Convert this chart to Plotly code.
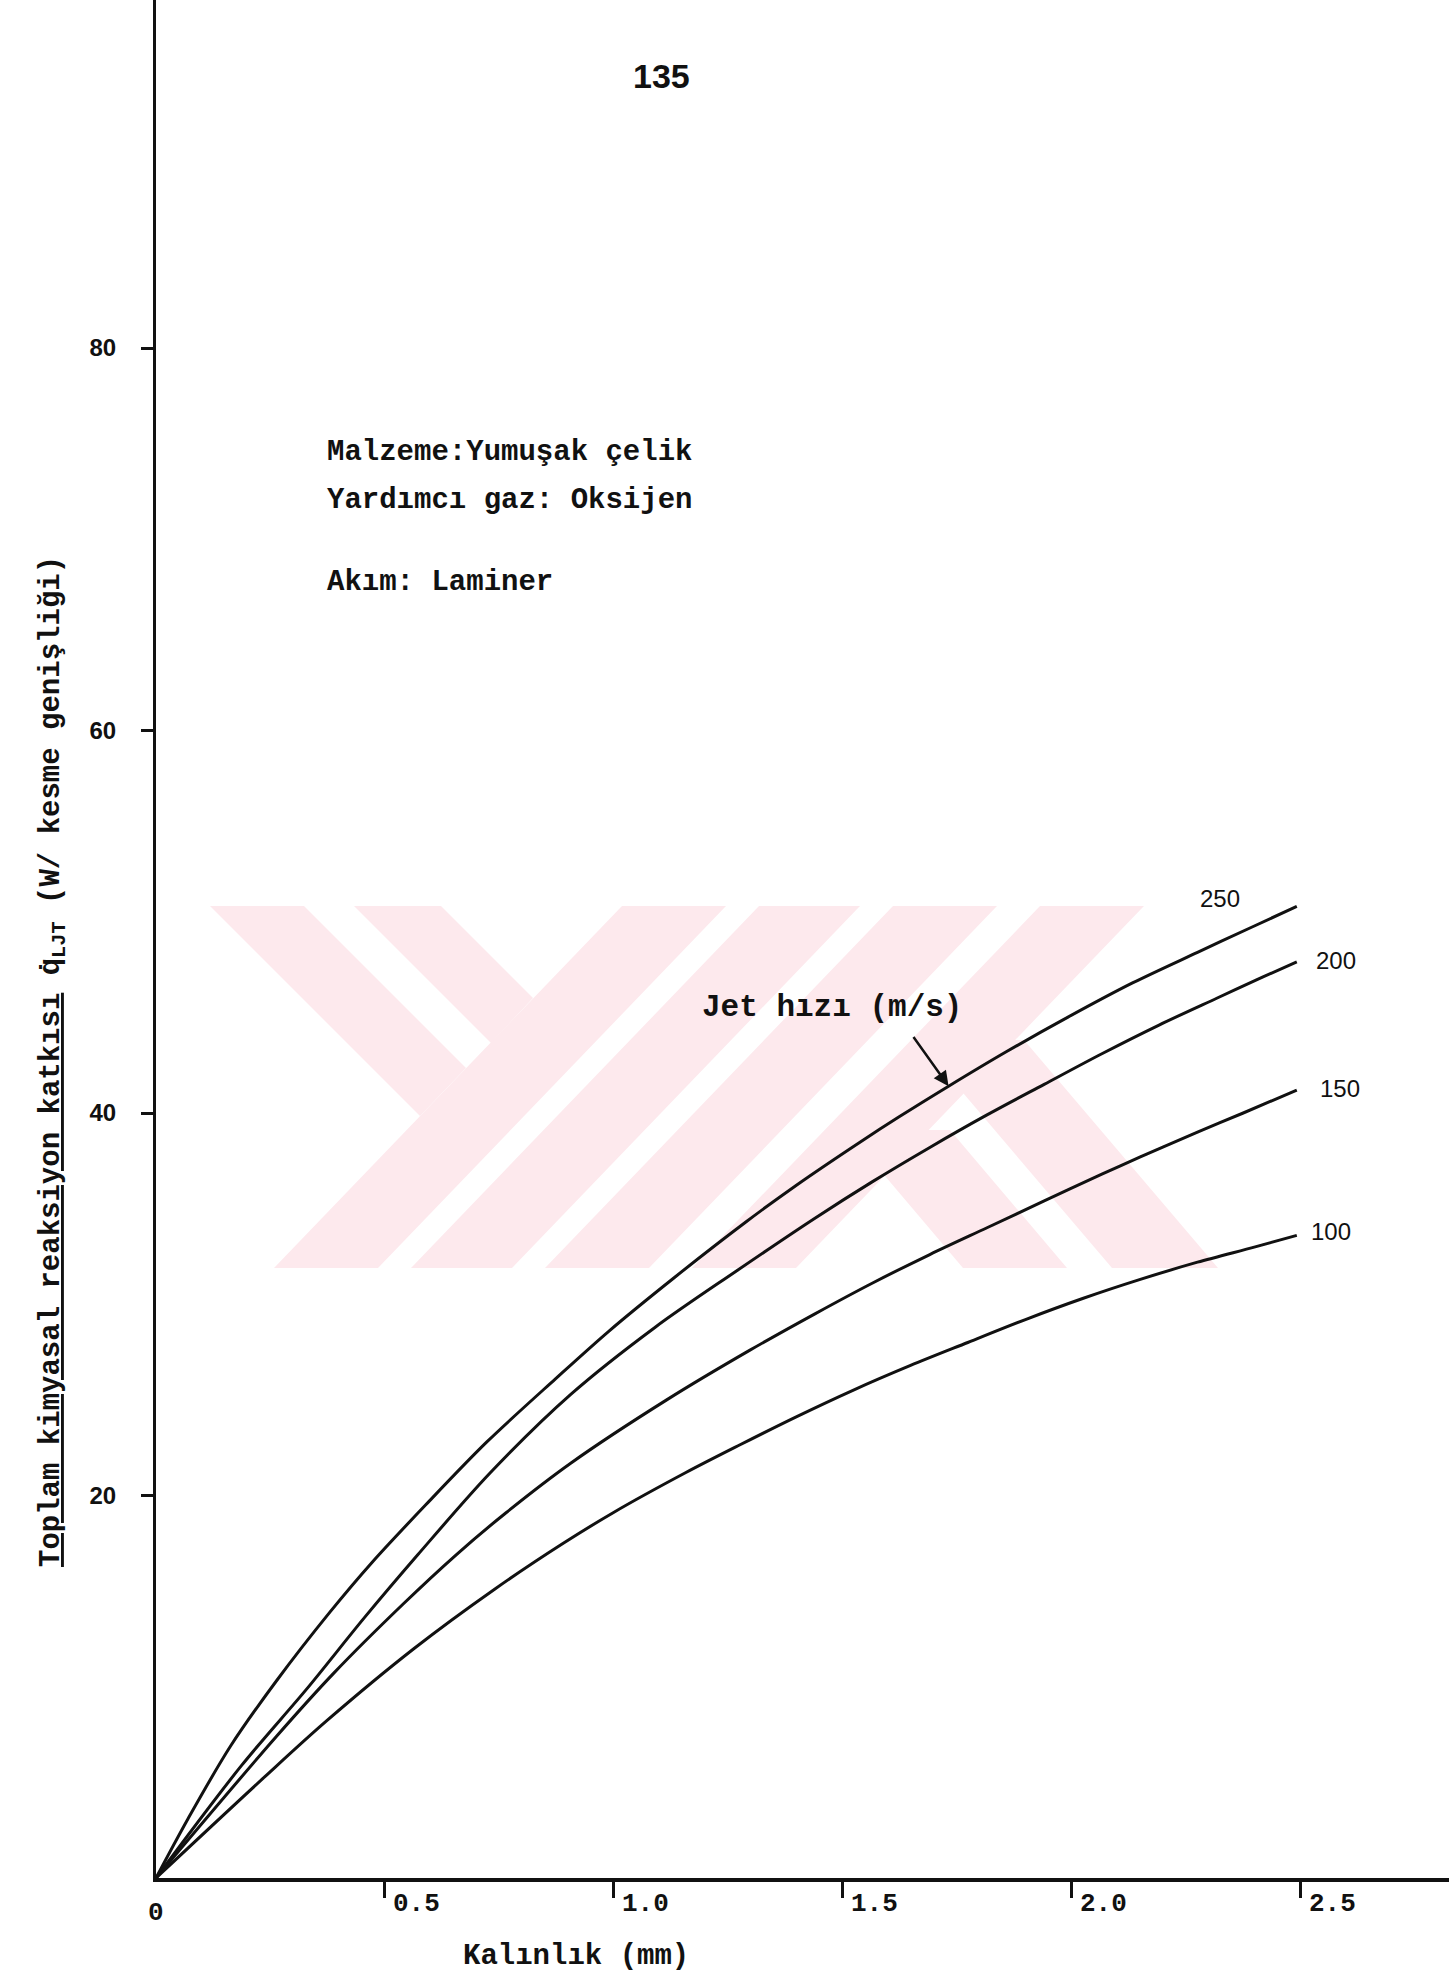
import plotly.graph_objects as go

# --- data: thickness (mm) vs. total chemical reaction contribution, per jet speed ---
speeds = ["250", "200", "150", "100"]

x_250 = [0, 0.07, 0.163, 0.263, 0.38, 0.472, 0.589, 0.723, 0.873, 0.99, 1.133, 1.289,
         1.398, 1.54, 1.624, 1.732, 1.858, 1.992, 2.134, 2.276, 2.393, 2.493]
q_250 = [0, 3.1, 6.9, 10.3, 13.9, 16.5, 19.5, 22.8, 26.1, 28.6, 31.4, 34.3,
         36.2, 38.5, 39.8, 41.4, 43.2, 45.0, 46.8, 48.4, 49.7, 50.8]

x_200 = [0, 0.1875, 0.33, 0.455, 0.572, 0.731, 0.907, 1.091, 1.266, 1.44, 1.565,
         1.691, 1.816, 1.941, 2.067, 2.192, 2.318, 2.418, 2.493]
q_200 = [0, 5.9, 9.9, 13.6, 16.9, 21.2, 25.3, 28.8, 31.7, 34.5, 36.4,
         38.2, 39.9, 41.5, 43.1, 44.6, 46.0, 47.1, 47.9]

x_150 = [0, 0.263, 0.388, 0.539, 0.656, 0.765, 0.907, 1.116, 1.298, 1.44, 1.565,
         1.691, 1.816, 1.941, 2.067, 2.151, 2.276, 2.376, 2.493]
q_150 = [0, 7.4, 10.7, 14.3, 16.9, 19.1, 21.7, 25.0, 27.6, 29.5, 31.1,
         32.6, 34.0, 35.4, 36.8, 37.7, 39.0, 40.0, 41.2]

x_100 = [0, 0.238, 0.372, 0.564, 0.74, 0.89, 0.999, 1.158, 1.272, 1.398, 1.523,
         1.649, 1.774, 1.9, 2.025, 2.151, 2.276, 2.402, 2.493]
q_100 = [0, 5.3, 8.2, 12.0, 15.1, 17.5, 19.1, 21.2, 22.6, 24.1, 25.5,
         26.8, 28.0, 29.2, 30.3, 31.3, 32.2, 33.0, 33.6]

x_tick_vals = [0.5, 1.0, 1.5, 2.0, 2.5]
x_tick_text = ["0.5", "1.0", "1.5", "2.0", "2.5"]
y_tick_vals = [20, 40, 60, 80]
y_tick_text = ["20", "40", "60", "80"]

# --- page geometry ---
W, H = 1449, 1976
ML, MB = 156, 98
PLOT_W, PLOT_H = W - ML, H - MB
PX_PER_MM = 457.6
PX_PER_UNIT = 19.125

MONO = "Liberation Mono"
SANS = "Liberation Sans"
INK = "#111111"


def paper_xy(px, py):
    return (px - ML) / PLOT_W, (PLOT_H - py) / PLOT_H


def paper_path(points):
    parts = []
    for i, (px, py) in enumerate(points):
        x, y = paper_xy(px, py)
        parts.append(("M" if i == 0 else "L") + f"{x:.5f},{y:.5f}")
    return " ".join(parts) + " Z"


fig = go.Figure()

series = [(x_250, q_250), (x_200, q_200), (x_150, q_150), (x_100, q_100)]
for name, (xs, ys) in zip(speeds, series):
    fig.add_trace(go.Scatter(
        x=xs, y=ys, mode="lines", name=name, showlegend=False,
        line=dict(color=INK, width=3, shape="spline", smoothing=0.9),
        hoverinfo="skip",
    ))

# faint pink repository watermark behind the curves
WM = "rgb(253,233,237)"
top, bot = 906, 1268
stripes = [
    [(622, top), (726, top), (378, bot), (274, bot)],
    [(759, top), (860, top), (512, bot), (411, bot)],
    [(893, top), (997, top), (649, bot), (545, bot)],
    [(1040, top), (1144, top), (796, bot), (692, bot)],
    [(210, top), (304, top), (466, 1068), (420, 1116)],
    [(354, top), (441, top), (533, 998), (491, 1043)],
    [(918, 1040), (1024, 1040), (1218, bot), (1112, bot)],
    [(846, 1130), (950, 1130), (1067, bot), (963, bot)],
]
shapes = [dict(type="path", xref="paper", yref="paper", path=paper_path(s),
               fillcolor=WM, line=dict(width=0), layer="below") for s in stripes]

annotations = []

# curve labels
label_pos = {"250": (2.326, 51.2, "center"), "200": (2.53, 48.0, "left"),
             "150": (2.54, 41.3, "left"), "100": (2.52, 33.8, "left")}
for name in speeds:
    lx, ly, anchor = label_pos[name]
    annotations.append(dict(x=lx, y=ly, xref="x", yref="y", text=name, showarrow=False,
                            xanchor=anchor, yanchor="middle",
                            font=dict(family=SANS, size=24, color=INK)))

# jet speed callout with arrow onto the 250 curve
annotations.append(dict(x=1.477, y=45.5, xref="x", yref="y", text="<b>Jet hızı (m/s)</b>",
                        showarrow=False, xanchor="center", yanchor="middle",
                        font=dict(family=MONO, size=31, color=INK)))
annotations.append(dict(x=x_250[15], y=q_250[15], xref="x", yref="y", ax=1.653, ay=44.05,
                        axref="x", ayref="y", text="", showarrow=True, arrowhead=2,
                        arrowsize=1.2, arrowwidth=2.5, arrowcolor=INK))

# x tick labels, typed just right of each tick
annotations.append(dict(x=0, y=paper_xy(0, 1913)[1], xref="x", yref="paper", text="<b>0</b>",
                        showarrow=False, xanchor="center", yanchor="middle",
                        font=dict(family=MONO, size=26, color=INK)))
for v, t in zip(x_tick_vals, x_tick_text):
    annotations.append(dict(x=v, y=paper_xy(0, 1904)[1], xref="x", yref="paper",
                            text=f"<b>{t}</b>", showarrow=False, xanchor="center",
                            yanchor="middle", xshift=32,
                            font=dict(family=MONO, size=26, color=INK)))

# axis titles
annotations.append(dict(x=paper_xy(576, 0)[0], y=paper_xy(0, 1957)[1], xref="paper", yref="paper",
                        text="<b>Kalınlık (mm)</b>", showarrow=False,
                        xanchor="center", yanchor="middle",
                        font=dict(family=MONO, size=29, color=INK)))
annotations.append(dict(x=paper_xy(53, 0)[0], y=paper_xy(0, 1062)[1], xref="paper", yref="paper",
                        text="<b><u>Toplam kimyasal reaksiyon katkısı</u> q̇<sub>LJT</sub> "
                             "(W/ kesme genişliği)</b>",
                        textangle=-90, showarrow=False, xanchor="center", yanchor="middle",
                        font=dict(family=MONO, size=29, color=INK)))

# case notes
notes = [("Malzeme:Yumuşak çelik", 452), ("Yardımcı gaz: Oksijen", 501), ("Akım: Laminer", 582)]
for txt, py in notes:
    annotations.append(dict(x=paper_xy(325, 0)[0], y=paper_xy(0, py)[1], xref="paper", yref="paper",
                            text=f"<b>{txt}</b>", showarrow=False, xanchor="left",
                            yanchor="middle", font=dict(family=MONO, size=29, color=INK)))

# page number
annotations.append(dict(x=paper_xy(661, 0)[0], y=paper_xy(0, 76)[1], xref="paper", yref="paper",
                        text="<b>135</b>", showarrow=False, xanchor="center", yanchor="middle",
                        font=dict(family=SANS, size=34, color=INK)))

fig.update_layout(
    width=W, height=H,
    margin=dict(l=ML, r=0, t=0, b=MB, pad=0),
    paper_bgcolor="white", plot_bgcolor="white",
    shapes=shapes, annotations=annotations,
    xaxis=dict(range=[0, PLOT_W / PX_PER_MM], showline=True, linewidth=4, linecolor=INK,
               ticks="outside", tickvals=x_tick_vals, ticklen=16, tickwidth=2.5,
               tickcolor=INK, showticklabels=False, showgrid=False, zeroline=False),
    yaxis=dict(range=[0, PLOT_H / PX_PER_UNIT], showline=True, linewidth=3, linecolor=INK,
               ticks="outside", tickvals=y_tick_vals, ticktext=y_tick_text, ticklen=12,
               tickwidth=2.5, tickcolor=INK, ticklabelstandoff=20,
               tickfont=dict(family=SANS, size=24, color=INK, weight="bold"),
               showgrid=False, zeroline=False),
)

fig.write_html("out.html")
